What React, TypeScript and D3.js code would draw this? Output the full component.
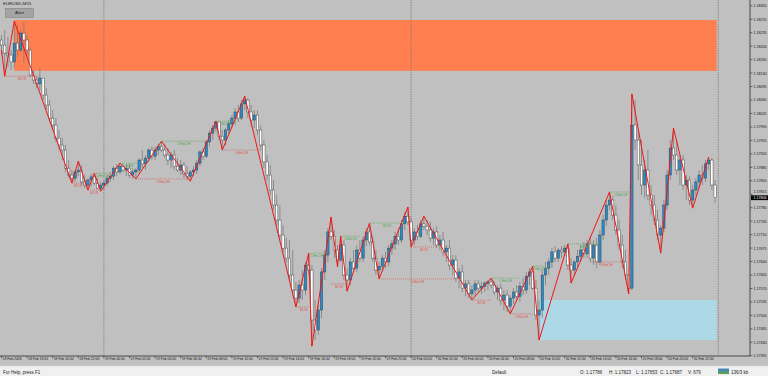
import React from "react";
import * as d3 from "d3";

// ---- Price data (EURUSD M15, one entry per bar, bar 0 = 18 Feb 16:00) ----
const firstOpen = 1.18216;
const closes = [
  1.18203,1.18182,1.18177,1.18159,1.18208,1.18190,1.18234,1.18216,1.18190,1.18125,
  1.18112,1.18102,1.18117,1.18073,1.18047,1.18013,1.17995,1.17961,1.17943,1.17930,
  1.17883,1.17865,1.17857,1.17873,1.17878,1.17847,1.17839,1.17852,1.17860,1.17844,
  1.17831,1.17839,1.17844,1.17857,1.17862,1.17883,1.17873,1.17888,1.17878,1.17883,
  1.17865,1.17873,1.17878,1.17904,1.17894,1.17909,1.17930,1.17914,1.17930,1.17940,
  1.17930,1.17917,1.17904,1.17917,1.17888,1.17878,1.17891,1.17868,1.17862,1.17873,
  1.17878,1.17896,1.17925,1.17914,1.17951,1.17974,1.17987,1.18003,1.17966,1.17956,
  1.17982,1.17998,1.18013,1.18029,1.18013,1.18050,1.18060,1.18029,1.18008,1.18021,
  1.17982,1.17943,1.17899,1.17865,1.17826,1.17787,1.17748,1.17709,1.17675,1.17649,
  1.17605,1.17566,1.17545,1.17579,1.17566,1.17631,1.17618,1.17488,1.17462,1.17514,
  1.17613,1.17657,1.17717,1.17706,1.17670,1.17644,1.17683,1.17605,1.17592,1.17639,
  1.17623,1.17670,1.17649,1.17696,1.17717,1.17691,1.17649,1.17618,1.17628,1.17649,
  1.17639,1.17675,1.17686,1.17706,1.17696,1.17738,1.17758,1.17743,1.17696,1.17717,
  1.17706,1.17738,1.17732,1.17722,1.17701,1.17717,1.17683,1.17696,1.17665,1.17675,
  1.17631,1.17644,1.17597,1.17613,1.17571,1.17582,1.17556,1.17566,1.17582,1.17571,
  1.17576,1.17584,1.17587,1.17579,1.17561,1.17571,1.17540,1.17553,1.17524,1.17545,
  1.17561,1.17550,1.17576,1.17566,1.17602,1.17613,1.17571,1.17501,1.17514,1.17605,
  1.17623,1.17639,1.17665,1.17649,1.17670,1.17665,1.17675,1.17631,1.17618,1.17639,
  1.17654,1.17670,1.17660,1.17686,1.17649,1.17683,1.17639,1.17709,1.17748,1.17787,
  1.17800,1.17761,1.17722,1.17683,1.17639,1.17605,1.17571,1.17995,1.17956,1.17891,
  1.17839,1.17878,1.17813,1.17787,1.17748,1.17709,1.17727,1.17787,1.17865,1.17935,
  1.17917,1.17878,1.17904,1.17839,1.17852,1.17800,1.17826,1.17847,1.17865,1.17857,
  1.17894,1.17904,1.17839,1.17806,
];
const highs = [
  1.18229,1.18242,1.18224,1.18190,1.18265,1.18255,1.18242,1.18263,1.18229,1.18198,
  1.18138,1.18122,1.18143,1.18117,1.18091,1.18060,1.18034,1.18013,1.17982,1.17961,
  1.17943,1.17904,1.17878,1.17878,1.17901,1.17891,1.17865,1.17857,1.17868,1.17870,
  1.17857,1.17847,1.17852,1.17862,1.17873,1.17888,1.17894,1.17896,1.17894,1.17891,
  1.17894,1.17883,1.17883,1.17909,1.17930,1.17917,1.17935,1.17940,1.17938,1.17946,
  1.17953,1.17946,1.17935,1.17925,1.17930,1.17909,1.17904,1.17899,1.17888,1.17878,
  1.17888,1.17904,1.17930,1.17935,1.17956,1.17982,1.17995,1.18005,1.18003,1.17982,
  1.17987,1.18008,1.18021,1.18039,1.18047,1.18060,1.18070,1.18065,1.18047,1.18034,
  1.18034,1.17995,1.17956,1.17917,1.17891,1.17852,1.17813,1.17787,1.17735,1.17701,
  1.17696,1.17670,1.17587,1.17592,1.17618,1.17639,1.17662,1.17631,1.17540,1.17527,
  1.17623,1.17670,1.17727,1.17756,1.17722,1.17683,1.17706,1.17696,1.17623,1.17649,
  1.17670,1.17683,1.17696,1.17706,1.17727,1.17740,1.17706,1.17670,1.17639,1.17657,
  1.17665,1.17683,1.17696,1.17717,1.17727,1.17748,1.17769,1.17782,1.17753,1.17727,
  1.17735,1.17748,1.17758,1.17748,1.17743,1.17727,1.17732,1.17709,1.17717,1.17683,
  1.17696,1.17657,1.17657,1.17623,1.17631,1.17592,1.17592,1.17579,1.17592,1.17592,
  1.17587,1.17589,1.17592,1.17597,1.17589,1.17579,1.17582,1.17566,1.17566,1.17553,
  1.17571,1.17579,1.17587,1.17597,1.17613,1.17623,1.17628,1.17592,1.17540,1.17618,
  1.17639,1.17649,1.17675,1.17680,1.17675,1.17680,1.17683,1.17686,1.17649,1.17644,
  1.17670,1.17683,1.17691,1.17696,1.17706,1.17696,1.17701,1.17722,1.17761,1.17800,
  1.17821,1.17810,1.17787,1.17748,1.17709,1.17670,1.17605,1.18076,1.18060,1.17982,
  1.17956,1.17904,1.17930,1.17839,1.17813,1.17774,1.17735,1.17800,1.17878,1.17956,
  1.17987,1.17956,1.17917,1.17917,1.17865,1.17862,1.17839,1.17857,1.17878,1.17891,
  1.17904,1.17912,1.17909,1.17852,
];
const lows = [
  1.18177,1.18122,1.18146,1.18138,1.18143,1.18172,1.18185,1.18156,1.18177,1.18120,
  1.18102,1.18091,1.18086,1.18060,1.18034,1.18003,1.17982,1.17951,1.17930,1.17904,
  1.17873,1.17857,1.17844,1.17847,1.17862,1.17839,1.17831,1.17826,1.17836,1.17839,
  1.17829,1.17823,1.17826,1.17836,1.17847,1.17852,1.17862,1.17868,1.17873,1.17862,
  1.17857,1.17855,1.17855,1.17868,1.17883,1.17878,1.17899,1.17904,1.17904,1.17917,
  1.17925,1.17909,1.17891,1.17883,1.17878,1.17873,1.17865,1.17857,1.17852,1.17849,
  1.17862,1.17868,1.17888,1.17904,1.17909,1.17940,1.17956,1.17977,1.17956,1.17930,
  1.17943,1.17972,1.17987,1.17995,1.18003,1.18008,1.18034,1.18013,1.17992,1.17987,
  1.17969,1.17930,1.17883,1.17852,1.17813,1.17774,1.17735,1.17696,1.17665,1.17639,
  1.17592,1.17553,1.17522,1.17532,1.17540,1.17553,1.17605,1.17420,1.17436,1.17449,
  1.17493,1.17592,1.17639,1.17696,1.17649,1.17626,1.17639,1.17592,1.17563,1.17579,
  1.17618,1.17613,1.17639,1.17639,1.17680,1.17683,1.17639,1.17605,1.17595,1.17613,
  1.17623,1.17628,1.17657,1.17670,1.17683,1.17688,1.17722,1.17735,1.17678,1.17683,
  1.17696,1.17701,1.17722,1.17709,1.17691,1.17683,1.17675,1.17670,1.17654,1.17639,
  1.17618,1.17605,1.17587,1.17571,1.17561,1.17550,1.17545,1.17540,1.17550,1.17561,
  1.17556,1.17561,1.17566,1.17571,1.17553,1.17540,1.17527,1.17514,1.17509,1.17504,
  1.17530,1.17540,1.17535,1.17553,1.17556,1.17579,1.17566,1.17488,1.17436,1.17493,
  1.17579,1.17605,1.17623,1.17639,1.17639,1.17649,1.17654,1.17618,1.17584,1.17602,
  1.17623,1.17639,1.17649,1.17649,1.17639,1.17631,1.17623,1.17631,1.17696,1.17732,
  1.17774,1.17748,1.17709,1.17670,1.17623,1.17592,1.17556,1.17566,1.17930,1.17852,
  1.17813,1.17805,1.17800,1.17761,1.17735,1.17696,1.17662,1.17717,1.17774,1.17852,
  1.17904,1.17865,1.17839,1.17826,1.17800,1.17787,1.17779,1.17810,1.17831,1.17839,
  1.17847,1.17878,1.17826,1.17792,
];

// ---- ZigZag pivots ----
const pivotBars = [0,1,4,22,24,27,29,31,37,42,50,59,67,69,76,92,96,97,103,105,106,108,115,118,127,128,132,147,153,159,166,168,177,178,190,196,197,206,210,216,221];
const pivotPrices = [1.18190,1.18122,1.18265,1.17844,1.17901,1.17826,1.17870,1.17823,1.17896,1.17855,1.17953,1.17849,1.18005,1.17930,1.18070,1.17522,1.17662,1.17420,1.17756,1.17626,1.17706,1.17563,1.17740,1.17595,1.17782,1.17678,1.17758,1.17540,1.17597,1.17504,1.17628,1.17436,1.17686,1.17584,1.17821,1.17556,1.18076,1.17662,1.17987,1.17779,1.17912];

// ---- Market structure labels ----
const structLevels = [1.18122,1.17844,1.17826,1.17870,1.17896,1.17855,1.17953,1.18005,1.17930,1.17522,1.17662,1.17582,1.17706,1.17740,1.17678,1.17595,1.17540,1.17597,1.17504,1.17628,1.17686,1.17639,1.17821];
const structFrom = [1,22,27,29,37,42,50,67,69,92,96,103,106,115,128,118,147,153,159,166,177,184,190];
const structTo = [12,26,31,34,43,59,64,73,81,97,101,108,112,126,136,142,153,162,166,170,187,194,197];
const structText = ["BOS","BOS","BOS","CHoCH","BOS","CHoCH","CHoCH","BOS","CHoCH","BOS","CHoCH","BOS","CHoCH","BOS","BOS","CHoCH","BOS","CHoCH","CHoCH","CHoCH","BOS","CHoCH","CHoCH"];
const structBull = [false,false,false,true,true,false,true,true,false,false,true,false,true,true,false,false,false,true,false,true,true,false,true];

// ---- Supply / demand zones ----
const zoneTop = [1.18268, 1.17540];
const zoneBottom = [1.18136, 1.17436];
const zoneStart = [4, 168];
const zoneColor = ["#ff7f50", "#add8e6"];

// ---- Axis labels ----
const priceTicks = [1.18305,1.18270,1.18235,1.18200,1.18165,1.18130,1.18095,1.18060,1.18025,1.17990,1.17955,1.17920,1.17885,1.17850,1.17815,1.17780,1.17745,1.17710,1.17675,1.17640,1.17605,1.17570,1.17535,1.17500,1.17465,1.17430,1.17395];
const timeTickBars = [0,8,16,24,32,40,48,56,64,72,80,88,96,104,112,120,128,136,144,152,160,168,176,184,192,200,208,216];
const timeTickLabels = ["18 Feb 2026","18 Feb 18:00","18 Feb 20:00","18 Feb 22:00","19 Feb 00:00","19 Feb 02:00","19 Feb 04:00","19 Feb 06:00","19 Feb 08:00","19 Feb 10:00","19 Feb 12:00","19 Feb 14:00","19 Feb 16:00","19 Feb 18:00","19 Feb 20:00","19 Feb 22:00","20 Feb 00:00","20 Feb 02:00","20 Feb 04:00","20 Feb 06:00","20 Feb 08:00","20 Feb 10:00","20 Feb 12:00","20 Feb 14:00","20 Feb 16:00","20 Feb 18:00","20 Feb 20:00","20 Feb 22:00"];
const daySeparatorBars = [32, 128, 224];
const lastPrice = 1.17806;
const statusTexts = ["For Help, press F1","Default","O: 1.17786","H: 1.17823","L: 1.17653","C: 1.17687","V: 679","136/3 kb"];
const statusX = [3, 492, 580, 609, 636, 660, 688, 731];

const FONT = "'Liberation Sans', Arial, sans-serif";

export default function App() {
  const n = closes.length;
  const x = d3.scaleLinear().domain([0, n - 1]).range([1.5, 1.5 + 3.2 * (n - 1)]);
  const y = d3.scaleLinear().domain([1.17395, 1.18305]).range([355.8, 5.8]);
  const fmt = d3.format(".5f");
  const plotRight = 750;
  const plotBottom = 356;
  const zoneEnd = x(n - 1) + 1.6;
  const lastY = y(lastPrice);

  const candles = closes.map((c, i) => ({
    i,
    o: i === 0 ? firstOpen : closes[i - 1],
    h: highs[i],
    l: lows[i],
    c,
  }));
  const zz = d3
    .line<[number, number]>()
    .x((d) => x(d[0]))
    .y((d) => y(d[1]))(pivotBars.map((b, k) => [b, pivotPrices[k]] as [number, number]));

  return (
    <svg
      width={768}
      height={376}
      style={{ position: "absolute", left: 0, top: 0, display: "block" }}
      fontFamily={FONT}
    >
      <rect x={0} y={0} width={768} height={376} fill="#c0c0c0" />
      {zoneTop.map((t, k) => (
        <rect
          key={"z" + k}
          x={x(zoneStart[k])}
          y={y(t)}
          width={zoneEnd - x(zoneStart[k])}
          height={y(zoneBottom[k]) - y(t)}
          fill={zoneColor[k]}
        />
      ))}
      {daySeparatorBars.map((b) => (
        <line key={"d" + b} x1={x(b)} x2={x(b)} y1={0} y2={plotBottom} stroke="#6e6e6e" strokeWidth={0.8} strokeDasharray="1.2 1.2" />
      ))}
      {candles.map((d) => {
        const bull = d.c > d.o;
        const top = y(Math.max(d.o, d.c));
        const bot = y(Math.min(d.o, d.c));
        return (
          <g key={"c" + d.i}>
            <line x1={x(d.i)} x2={x(d.i)} y1={y(d.h)} y2={y(d.l)} stroke="#7d7d7d" strokeWidth={0.8} />
            <rect
              x={x(d.i) - 1.15}
              y={top}
              width={2.3}
              height={Math.max(0.6, bot - top)}
              fill={bull ? "#1e8fd6" : "#ffffff"}
              stroke="#3a3a3a"
              strokeWidth={0.45}
            />
          </g>
        );
      })}
      <path d={zz || ""} fill="none" stroke="#f41414" strokeWidth={1} strokeLinejoin="round" />
      {structLevels.map((lv, k) => {
        const col = structBull[k] ? "#4fa84f" : "#e05555";
        const x1 = x(structFrom[k]);
        const x2 = x(structTo[k]);
        return (
          <g key={"s" + k}>
            <line x1={x1} x2={x2} y1={y(lv)} y2={y(lv)} stroke={col} strokeWidth={0.7} strokeDasharray="1 1" />
            <text x={(x1 + x2) / 2} y={y(lv) + 4} fontSize={3.8} fill={col} textAnchor="middle">
              {structText[k]}
            </text>
          </g>
        );
      })}
      <line x1={plotRight} x2={plotRight} y1={0} y2={plotBottom} stroke="#2a2a2a" strokeWidth={0.8} />
      <line x1={0} x2={plotRight} y1={plotBottom} y2={plotBottom} stroke="#2a2a2a" strokeWidth={0.8} />
      {priceTicks.map((p) => {
        const near = Math.abs(y(p) - lastY) < 5;
        const ty = near ? (y(p) < lastY ? lastY - 4.6 : lastY + 6.4) : y(p) + 1.4;
        return (
          <g key={"p" + p}>
            <line x1={plotRight} x2={plotRight + 2.5} y1={y(p)} y2={y(p)} stroke="#2a2a2a" strokeWidth={0.6} />
            <text x={plotRight + 3.5} y={ty} fontSize={3.6} fill="#111">
              {fmt(p)}
            </text>
          </g>
        );
      })}
      <rect x={plotRight + 1} y={lastY - 2.4} width={17} height={4.8} fill="#000" />
      <text x={plotRight + 3.5} y={lastY + 1.3} fontSize={3.6} fill="#fff">
        {fmt(lastPrice)}
      </text>
      {timeTickBars.map((b, k) => (
        <g key={"t" + b}>
          <line x1={x(b)} x2={x(b)} y1={plotBottom} y2={plotBottom + 2.5} stroke="#2a2a2a" strokeWidth={0.6} />
          <text x={x(b) + 1} y={360.3} fontSize={3.4} fill="#111">
            {timeTickLabels[k]}
          </text>
        </g>
      ))}
      <text x={3} y={4.8} fontSize={4.4} fill="#222">EURUSD,M15</text>
      <rect x={5.7} y={8.3} width={27.6} height={9} fill="#a4a4a4" stroke="#7a7a7a" strokeWidth={0.5} />
      <text x={19.5} y={14.3} fontSize={4.4} fill="#1a1a1a" textAnchor="middle">Alert</text>
      <rect x={0} y={366} width={768} height={10} fill="#f0f0f0" />
      <line x1={0} x2={768} y1={366} y2={366} stroke="#d8d8d8" strokeWidth={0.5} />
      <rect x={718} y={368.5} width={11} height={5.5} fill="#4a86b8" />
      <rect x={718} y={371.5} width={11} height={2.5} fill="#5aa05a" />
      {statusTexts.map((s, k) => (
        <text key={"st" + k} x={statusX[k]} y={373.6} fontSize={4.5} fill="#222">
          {s}
        </text>
      ))}
    </svg>
  );
}
